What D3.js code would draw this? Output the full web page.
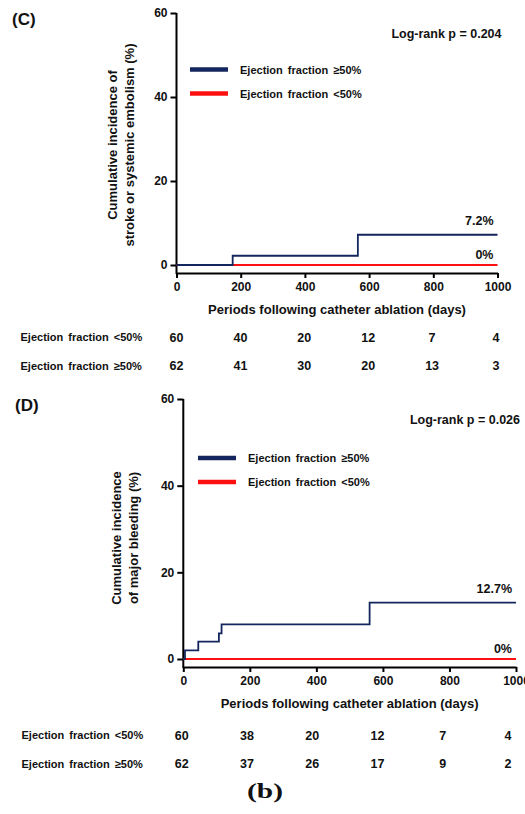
<!DOCTYPE html>
<html>
<head>
<meta charset="utf-8">
<script src="https://cdn.jsdelivr.net/npm/d3@7"></script>
<style>
  body { margin: 0; background: #fff; }
  svg text { font-family: "Liberation Sans", Arial, sans-serif; font-weight: bold; fill: #111; }
</style>
</head>
<body>
<div id="chart"></div>
<script>
// tick values shared by both panels
const dayTicks = [0, 200, 400, 600, 800, 1000];
const pctTicks = [0, 20, 40, 60];

// (C) stroke or systemic embolism
const strokeDays = [0, 175, 565, 1000];
const strokeHigh = [0, 2.2, 7.2, 7.2];     // EF >= 50%
const strokeLowDays = [0, 1000];
const strokeLow = [0, 0];                  // EF < 50%
const strokeRiskLow = [60, 40, 20, 12, 7, 4];
const strokeRiskHigh = [62, 41, 30, 20, 13, 3];

// (D) major bleeding
const bleedDays = [0, 5, 45, 107, 115, 560, 1000];
const bleedHigh = [0, 2.0, 4.0, 5.9, 8.0, 13.0, 13.0];
const bleedLowDays = [0, 1000];
const bleedLow = [0, 0];
const bleedRiskLow = [60, 38, 20, 12, 7, 4];
const bleedRiskHigh = [62, 37, 26, 17, 9, 2];

const navy = '#14265e';
const red = '#ff1010';

const width = 525, height = 814;

const svg = d3.select('#chart')
  .append('svg')
  .attr('width', width)
  .attr('height', height);

function drawPanel(p) {
  const g = svg.append('g');

  const x = d3.scaleLinear().domain([0, 1000]).range([p.x0, p.x1]);
  const y = d3.scaleLinear().domain([0, 60]).range([p.y0, p.y60]);

  // panel letter
  g.append('text')
    .attr('x', p.letterX).attr('y', p.letterY)
    .style('font-size', '17px')
    .text(p.letter);

  // y axis
  const yAxis = g.append('g')
    .attr('transform', `translate(${p.x0},0)`)
    .call(d3.axisLeft(y).tickValues(pctTicks).tickSize(6).tickPadding(3).tickSizeOuter(0));
  yAxis.select('.domain').remove();
  yAxis.append('line')
    .attr('x1', 0).attr('x2', 0)
    .attr('y1', y(60)).attr('y2', p.axisY + 1)
    .attr('stroke', '#000').attr('stroke-width', 2);
  yAxis.selectAll('.tick line').attr('stroke', '#000').attr('stroke-width', 2);
  yAxis.selectAll('.tick text').style('font-size', '12px').attr('fill', '#111');

  // x axis
  const xAxis = g.append('g')
    .attr('transform', `translate(0,${p.axisY})`)
    .call(d3.axisBottom(x).tickValues(dayTicks).tickFormat(d3.format('d'))
      .tickSize(5).tickPadding(4).tickSizeOuter(0));
  xAxis.select('.domain').attr('stroke', '#000').attr('stroke-width', 2);
  xAxis.selectAll('.tick line').attr('stroke', '#000').attr('stroke-width', 2);
  xAxis.selectAll('.tick text').style('font-size', '12px').attr('fill', '#111');

  // axis titles
  g.append('text')
    .attr('x', (p.x0 + p.x1) / 2 + p.xTitleShift).attr('y', p.axisY + 41)
    .attr('text-anchor', 'middle')
    .style('font-size', '13px')
    .text('Periods following catheter ablation (days)');

  const yt = g.append('text')
    .attr('transform', `translate(${p.yTitleX},${p.yTitleY}) rotate(-90)`)
    .attr('text-anchor', 'middle')
    .style('font-size', '13px');
  p.yTitle.forEach((t, i) => {
    yt.append('tspan').attr('x', 0).attr('dy', i === 0 ? 0 : 17).text(t);
  });

  // curves
  const line = d3.line()
    .x(d => x(d[0]))
    .y(d => y(d[1]))
    .curve(d3.curveStepAfter);

  g.append('path')
    .datum(d3.zip(p.lowDays, p.low))
    .attr('d', line)
    .attr('fill', 'none')
    .attr('stroke', red).attr('stroke-width', 2);

  g.append('path')
    .datum(d3.zip(p.highDays, p.high))
    .attr('d', line)
    .attr('fill', 'none')
    .attr('stroke', navy).attr('stroke-width', 1.8);

  // end labels
  g.append('text')
    .attr('x', p.x1 - 4).attr('y', y(p.high[p.high.length - 1]) - 10)
    .attr('text-anchor', 'end')
    .style('font-size', '12.5px')
    .text(p.highLabel);
  g.append('text')
    .attr('x', p.x1 - 4).attr('y', y(0) - 6)
    .attr('text-anchor', 'end')
    .style('font-size', '12.5px')
    .text('0%');

  // log-rank
  g.append('text')
    .attr('x', p.x1 + 4).attr('y', p.y60 + 25)
    .attr('text-anchor', 'end')
    .style('font-size', '12.5px')
    .text(p.logRank);

  // legend
  const legend = [
    { label: 'Ejection fraction \u226550%', color: navy, w: 4.5 },
    { label: 'Ejection fraction <50%', color: red, w: 4.5 }
  ];
  legend.forEach((d, i) => {
    const ly = p.legendY + i * 24;
    g.append('line')
      .attr('x1', p.legendX).attr('x2', p.legendX + 38)
      .attr('y1', ly).attr('y2', ly)
      .attr('stroke', d.color).attr('stroke-width', d.w);
    g.append('text')
      .attr('x', p.legendX + 50).attr('y', ly + 4)
      .style('font-size', '11px')
      .style('word-spacing', '2px')
      .text(d.label);
  });

  // numbers at risk
  const tx = d3.scaleLinear().domain([0, 1000]).range(p.tableRange);
  const rows = [
    { label: 'Ejection fraction <50%', values: p.riskLow },
    { label: 'Ejection fraction \u226550%', values: p.riskHigh }
  ];
  rows.forEach((r, i) => {
    const ry = p.tableY + i * 28.5;
    g.append('text')
      .attr('x', p.tableLabelX).attr('y', ry + 4)
      .style('font-size', '11px')
      .style('word-spacing', '2px')
      .text(r.label);
    g.selectAll(null)
      .data(r.values)
      .enter()
      .append('text')
      .attr('x', (d, j) => tx(dayTicks[j]))
      .attr('y', ry + 4.5)
      .attr('text-anchor', 'middle')
      .style('font-size', '12.5px')
      .text(d => d);
  });
}

drawPanel({
  letter: '(C)', letterX: 12, letterY: 25,
  x0: 176.5, x1: 497.5, y0: 265, y60: 13, axisY: 273,
  xTitleShift: 0,
  yTitle: ['Cumulative incidence of', 'stroke or systemic embolism (%)'],
  yTitleX: 117, yTitleY: 145,
  highDays: strokeDays, high: strokeHigh,
  lowDays: strokeLowDays, low: strokeLow,
  highLabel: '7.2%', logRank: 'Log-rank p = 0.204',
  legendX: 190, legendY: 69.5,
  riskLow: strokeRiskLow, riskHigh: strokeRiskHigh,
  tableY: 337, tableLabelX: 20.5, tableRange: [176.5, 496]
});

drawPanel({
  letter: '(D)', letterX: 15, letterY: 411,
  x0: 183.3, x1: 516, y0: 659, y60: 399, axisY: 667,
  xTitleShift: 0,
  yTitle: ['Cumulative incidence', 'of major bleeding (%)'],
  yTitleX: 121, yTitleY: 538,
  highDays: bleedDays, high: bleedHigh,
  lowDays: bleedLowDays, low: bleedLow,
  highLabel: '12.7%', logRank: 'Log-rank p = 0.026',
  legendX: 198, legendY: 458,
  riskLow: bleedRiskLow, riskHigh: bleedRiskHigh,
  tableY: 735, tableLabelX: 21.5, tableRange: [181.7, 508]
});

// figure label
svg.append('text')
  .attr('x', 265).attr('y', 798)
  .attr('text-anchor', 'middle')
  .attr('textLength', 36)
  .attr('lengthAdjust', 'spacingAndGlyphs')
  .style('font-family', '"Liberation Serif", "Times New Roman", serif')
  .style('font-weight', 'bold')
  .style('font-size', '20px')
  .text('(b)');
</script>
</body>
</html>
